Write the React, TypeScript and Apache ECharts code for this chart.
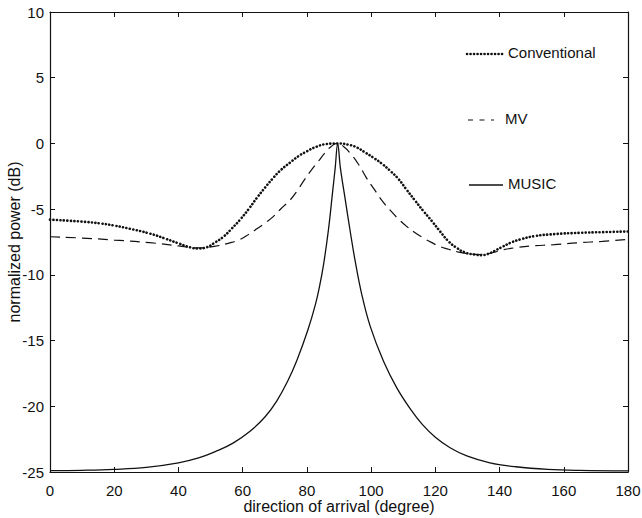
import React, { useEffect, useRef } from "react";
import * as echarts from "echarts";

const xTicks = { min: 0, max: 180, interval: 20 };
const yTicks = { min: -25, max: 10, interval: 5 };

const conventional: [number, number][] = [
  [0, -5.8], [10, -5.95], [16, -6.1], [20, -6.25], [25, -6.5], [31, -6.85], [36, -7.25],
  [40, -7.6], [43.6, -7.9], [46, -8.0], [48.8, -7.9], [51, -7.6], [54, -7.1], [56.5, -6.5],
  [59.2, -5.8], [62, -4.95], [64.4, -4.15], [67, -3.35], [69.6, -2.6], [72, -2.0],
  [74.8, -1.45], [77.5, -0.95], [80, -0.6], [83, -0.25], [86, -0.05], [89.5, 0], [93, -0.1],
  [95.5, -0.3], [98.2, -0.7], [100.8, -1.1], [103.4, -1.55], [106, -2.1], [108.5, -2.7],
  [111, -3.5], [113.7, -4.35], [116.3, -5.15], [118.9, -5.9], [121.5, -6.7], [124.1, -7.45],
  [126.7, -7.95], [129.3, -8.3], [132, -8.45], [134.5, -8.5], [137, -8.35], [139, -8.1],
  [141, -7.85], [143.5, -7.55], [146.5, -7.3], [151, -7.05], [157, -6.9], [165, -6.8],
  [172, -6.75], [180, -6.7],
];

const mv: [number, number][] = [
  [0, -7.1], [10, -7.2], [20, -7.35], [31, -7.55], [40, -7.8], [46, -7.95], [51.9, -7.8],
  [55.5, -7.6], [59.2, -7.3], [62, -6.9], [64.4, -6.5], [67, -6.05], [69.6, -5.55], [72, -4.95],
  [74.8, -4.3], [77, -3.6], [79, -2.85], [81.5, -2.0], [83.6, -1.35], [85.5, -0.75],
  [87.5, -0.25], [89.5, 0], [91.5, -0.25], [93.5, -0.75], [96.1, -1.6], [98.5, -2.6],
  [101, -3.5], [103.4, -4.35], [106, -5.1], [108.5, -5.75], [111, -6.3], [113.7, -6.8],
  [116.3, -7.2], [118.9, -7.55], [121.5, -7.85], [124.1, -8.05], [127, -8.25], [130, -8.38],
  [134, -8.45], [138, -8.3], [141, -8.1], [146, -7.9], [150, -7.8], [157, -7.7], [165, -7.55],
  [172, -7.45], [180, -7.3],
];

const music: [number, number][] = [
  [0, -24.9], [10, -24.87], [20, -24.8], [30, -24.65], [40, -24.3], [46, -23.95], [51.9, -23.4],
  [57, -22.8], [62.3, -21.9], [67, -20.8], [70.6, -19.6], [74, -18.1], [76.9, -16.5],
  [80.3, -14.2], [82.6, -12.3], [84, -10.8], [85.2, -9.2], [86.7, -6.6], [88, -3.7],
  [88.8, -1.9], [89.6, 0], [90.4, -1.8], [91.9, -4.2], [93.5, -6.7], [95, -8.9],
  [97.1, -11.5], [99.7, -13.9], [103.9, -16.6], [108, -18.6], [112.2, -20.2], [116, -21.4],
  [120, -22.35], [124.6, -23.15], [130, -23.8], [137, -24.3], [145, -24.6], [155, -24.8],
  [165, -24.88], [180, -24.92],
];

const legendLabels = ["Conventional", "MV", "MUSIC"];
const xTitle = "direction of arrival (degree)";
const yTitle = "normalized power (dB)";

const FONT = "Liberation Sans, Arial, sans-serif";
const INK = "#111";

export default function App() {
  const ref = useRef<HTMLDivElement>(null);
  useEffect(() => {
    if (!ref.current) return;
    const chart = echarts.init(ref.current, undefined, { renderer: "svg" });
    const axisCommon = {
      axisLine: { show: true, onZero: false, lineStyle: { color: INK, width: 1.2 } },
      axisTick: { show: true, inside: true, length: 5, lineStyle: { color: INK } },
      splitLine: { show: false },
    };
    chart.setOption({
      animation: false,
      backgroundColor: "#fff",
      grid: { left: 50, top: 12, right: 14, bottom: 46, containLabel: false, outerBoundsMode: "none" },
      xAxis: [
        {
          type: "value", position: "bottom", ...xTicks, ...axisCommon,
          axisLabel: { color: INK, fontFamily: FONT, fontSize: 15, margin: 11 },
          name: xTitle, nameLocation: "middle", nameGap: 26, nameMoveOverlap: false,
          nameTextStyle: { color: INK, fontFamily: FONT, fontSize: 16 },
        },
        {
          type: "value", position: "top", ...xTicks, ...axisCommon,
          axisLabel: { show: false },
        },
      ],
      yAxis: [
        {
          type: "value", position: "left", ...yTicks, ...axisCommon,
          axisLabel: { color: INK, fontFamily: FONT, fontSize: 15, margin: 6 },
          name: yTitle, nameLocation: "middle", nameGap: 28, nameMoveOverlap: false,
          nameTextStyle: { color: INK, fontFamily: FONT, fontSize: 16 },
        },
        {
          type: "value", position: "right", ...yTicks, ...axisCommon,
          axisLabel: { show: false },
        },
      ],
      series: [
        {
          name: legendLabels[0], type: "line", data: conventional, showSymbol: false,
          smooth: 0.5,
          lineStyle: { color: INK, width: 2.6, type: [0.1, 3.4], cap: "round" },
        },
        {
          name: legendLabels[1], type: "line", data: mv, showSymbol: false,
          smooth: 0.5,
          lineStyle: { color: INK, width: 1.2, type: [10, 6] },
        },
        {
          name: legendLabels[2], type: "line", data: music, showSymbol: false,
          smooth: 0.4,
          lineStyle: { color: INK, width: 1.3 },
        },
      ],
      graphic: [
        { type: "line", shape: { x1: 467, y1: 54, x2: 505, y2: 54 },
          style: { stroke: INK, lineWidth: 2.6, lineDash: [0.1, 3.4], lineCap: "round" } },
        { type: "text", left: 508, top: 45,
          style: { text: legendLabels[0], fill: INK, font: `15px ${FONT}` } },
        { type: "line", shape: { x1: 468, y1: 120, x2: 494, y2: 120 },
          style: { stroke: INK, lineWidth: 1.2, lineDash: [5, 6.5] } },
        { type: "text", left: 505, top: 111,
          style: { text: legendLabels[1], fill: INK, font: `15px ${FONT}` } },
        { type: "line", shape: { x1: 469, y1: 185, x2: 503, y2: 185 },
          style: { stroke: INK, lineWidth: 1.3 } },
        { type: "text", left: 508, top: 176,
          style: { text: legendLabels[2], fill: INK, font: `15px ${FONT}` } },
      ],
    });
    return () => chart.dispose();
  }, []);
  return <div ref={ref} style={{ width: 642, height: 518, position: "absolute", left: 0, top: 0 }} />;
}
